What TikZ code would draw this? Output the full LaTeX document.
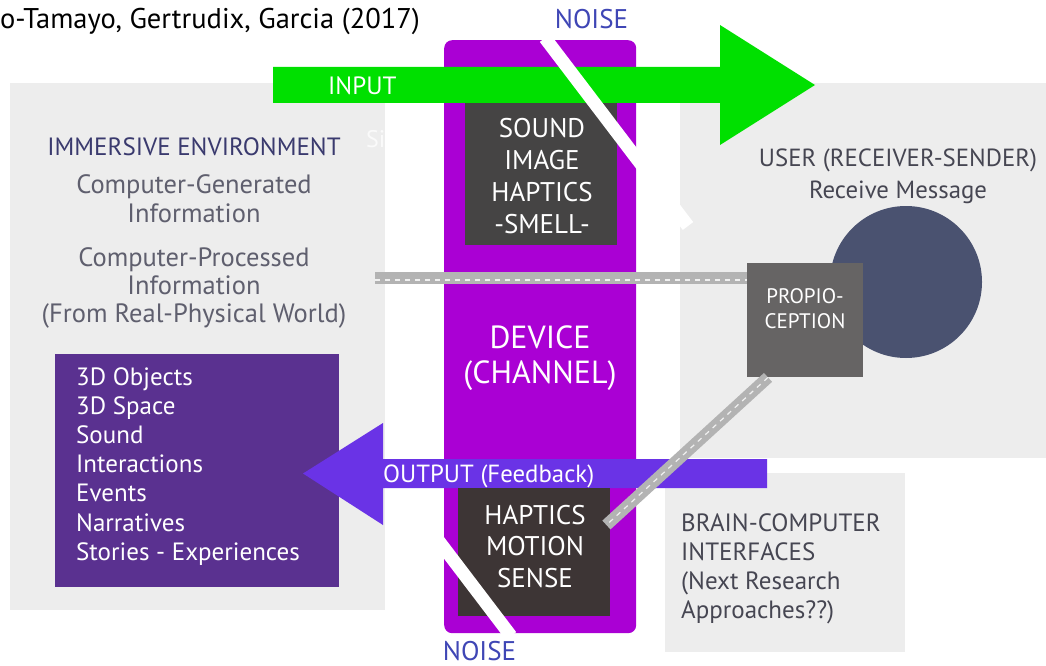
\documentclass[tikz,border=0pt]{standalone}
\usepackage{fontspec}
\setmainfont{PT Sans}
\usetikzlibrary{positioning}

\definecolor{panelgray}{RGB}{237,237,237}
\definecolor{devicepurple}{RGB}{170,0,212}
\definecolor{mediagray}{RGB}{69,68,68}
\definecolor{hapticsbrown}{RGB}{61,53,53}
\definecolor{inputgreen}{RGB}{0,224,0}
\definecolor{outputviolet}{RGB}{106,51,230}
\definecolor{contentpurple}{RGB}{90,49,144}
\definecolor{userblue}{RGB}{74,82,112}
\definecolor{propiogray}{RGB}{102,100,100}
\definecolor{linkgray}{RGB}{179,179,179}
\definecolor{noiseblue}{RGB}{63,70,181}
\definecolor{headnavy}{RGB}{58,58,110}
\definecolor{textgray}{RGB}{95,95,110}
\definecolor{darktext}{RGB}{70,70,82}

\begin{document}
\begin{tikzpicture}[x=1pt, y=-1pt,
  box/.style={inner sep=0pt, anchor=north west},
  panel/.style={box, fill=panelgray},
  txt/.style={inner sep=0pt, anchor=base, align=center},
  link/.style={draw=linkgray, line width=12pt},
  linkdash/.style={draw=white!80!linkgray, line width=1.2pt, dash pattern=on 5pt off 5pt},
  noise/.style={draw=white, line width=13pt},
  fs/.style 2 args={font=\fontsize{#1}{#2}\selectfont}]
  \useasboundingbox (0,0) rectangle (1046,666);

  % panels
  \node[panel, minimum width=375pt, minimum height=527pt] (env) at (10,83) {};
  \node[panel, minimum width=366pt, minimum height=375pt] (user) at (680,83) {};
  \node[panel, minimum width=240pt, minimum height=179pt] (bci) at (665,473) {};
  \node[box, fill=contentpurple, minimum width=284pt, minimum height=233pt] (content) at (55,354) {};

  % channel
  \node[box, fill=devicepurple, rounded corners=8pt, minimum width=192pt, minimum height=593pt] (device) at (444,40) {};
  \node[box, fill=mediagray, minimum width=152pt, minimum height=165pt] (media) at (465,80) {};

  % user
  \node[circle, fill=userblue, minimum size=152pt, inner sep=0pt] (head) at (906,282) {};

  \coordinate (envout) at (375,278);
  \draw[link] (envout) -- (envout -| 747,0);
  \draw[linkdash] ([yshift=-2pt]envout) -- ([yshift=-2pt]envout -| 747,0);

  % input
  \fill[inputgreen] (273,67) -- (720,67) -- (720,25) -- (815,85) -- (720,145)
    -- (720,103) -- (273,103) -- cycle;
  \draw[noise] (545,38) -- (688,226);

  % output
  \fill[outputviolet] (767,459) -- (383,459) -- (383,423) -- (303,473.5)
    -- (383,525) -- (383,488) -- (767,488) -- cycle;
  \node[box, fill=hapticsbrown, minimum width=152pt, minimum height=128pt] (haptics) at (458,488) {};
  \node[box, fill=propiogray, minimum width=116pt, minimum height=114pt] (propio) at (747,263) {};
  \draw[link] ([xshift=21pt]propio.south west) -- ([xshift=-4pt,yshift=-37pt]haptics.north east);
  \draw[linkdash] ([xshift=21pt]propio.south west) -- ([xshift=-4pt,yshift=-37pt]haptics.north east);
  \draw[noise] (438,540) -- (511,636);

  % texts
  \node[txt, anchor=base west, fs={28.5}{32}] (title) at (0,29) {o-Tamayo, Gertrudix, Garcia (2017)};
  \node[txt, fs={27}{30}, text=noiseblue] (noisein) at (591.5,29) {NOISE};
  \node[txt, fs={27}{30}, text=noiseblue] (noiseout) at (479.5,660) {NOISE};
  \node[txt, anchor=base west, fs={25}{28}, text=white] (inputlbl) at (328,95) {INPUT};
  \node[txt, anchor=base west, fs={24.8}{28}, text=white] (outputlbl) at (383,482) {OUTPUT (Feedback)};
  \node[txt, anchor=base west, fs={24}{28}, text=white!98!black] (hidden) at (366,147) {Si};

  \node[txt, fs={25}{28}, text=headnavy] (envhead) at (194,155) {IMMERSIVE ENVIRONMENT};
  \node[txt, fs={26.5}{29}, text=textgray] (generated) at (194,222) {Computer-Generated\\Information};
  \node[txt, fs={26.5}{28}, text=textgray] (processed) at (194,322) {Computer-Processed\\Information\\(From Real-Physical World)};

  \foreach \item [count=\i] in {3D Objects, 3D Space, Sound, Interactions, Events, Narratives, Stories - Experiences}
    \node[txt, anchor=base west, fs={25}{28}, text=white] (item\i) at (76,{385+29.2*(\i-1)}) {\item};

  \node[txt, fs={27}{32}, text=white] (medialbl) at (542,233) {SOUND\\IMAGE\\HAPTICS\\-SMELL-};
  \node[txt, fs={32}{35}, text=white] (devicelbl) at (540,383) {DEVICE\\(CHANNEL)};
  \node[txt, fs={27}{31.5}, text=white] (hapticslbl) at (535,587) {HAPTICS\\MOTION\\SENSE};
  \node[txt, fs={24.8}{32}, text=darktext] (userlbl) at (898,198) {USER (RECEIVER-SENDER)\\Receive Message};
  \node[txt, fs={21}{25}, text=white] (propiolbl) at (805,328) {PROPIO-\\CEPTION};
  \node[txt, anchor=base west, align=left, fs={25}{28.7}, text=darktext] (bcilbl) at (681,618) {BRAIN-COMPUTER\\INTERFACES\\(Next Research\\Approaches??)};
\end{tikzpicture}
\end{document}
